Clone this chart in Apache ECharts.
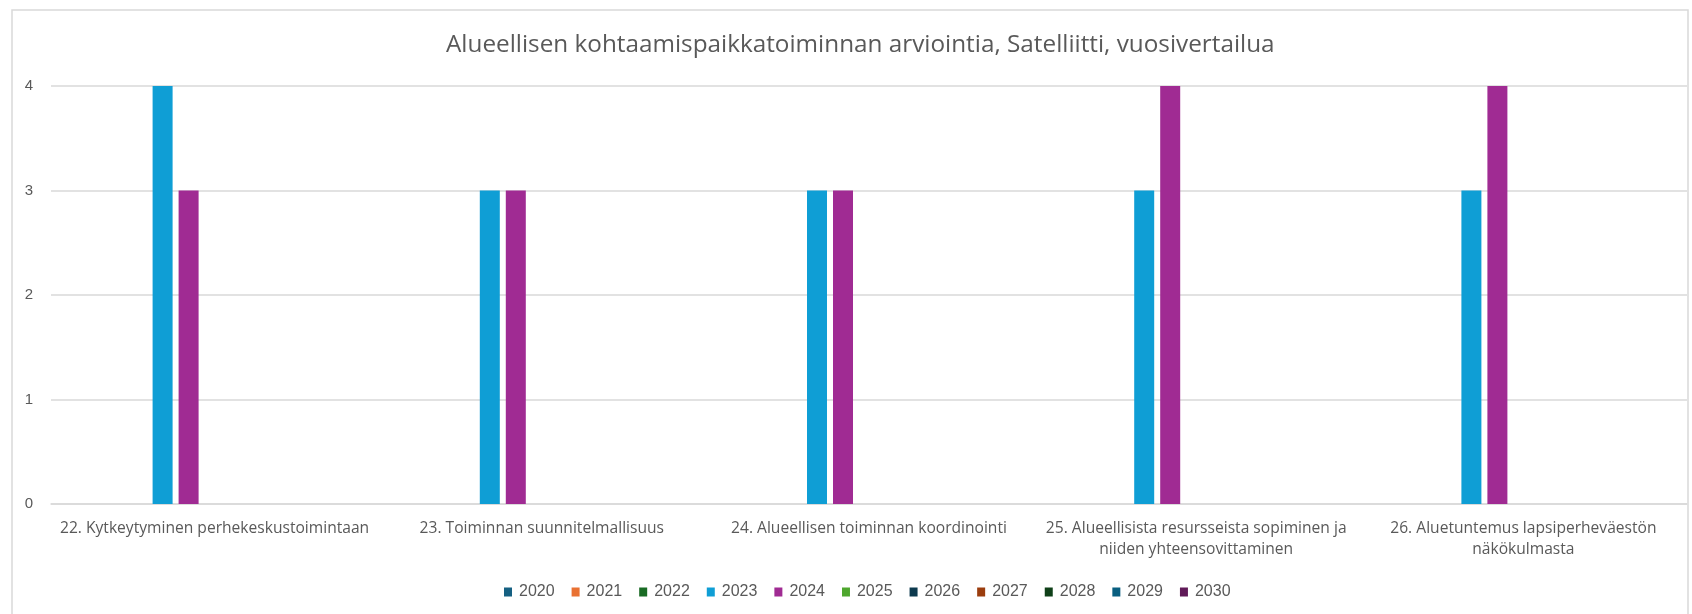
<!DOCTYPE html>
<html>
<head>
<meta charset="utf-8">
<script src="https://cdn.jsdelivr.net/npm/echarts@6/dist/echarts.min.js"></script>
<style>
  html, body { margin: 0; padding: 0; background: #fff; }
  #chart { width: 1692px; height: 614px; }
</style>
</head>
<body>
<div id="chart"></div>
<script>
// kategoriat
var categories = [
  "22. Kytkeytyminen perhekeskustoimintaan",
  "23. Toiminnan suunnitelmallisuus",
  "24. Alueellisen toiminnan koordinointi",
  "25. Alueellisista resursseista sopiminen ja\nniiden yhteensovittaminen",
  "26. Aluetuntemus lapsiperheväestön\nnäkökulmasta"
];
var years = ["2020", "2021", "2022", "2023", "2024", "2025", "2026", "2027", "2028", "2029", "2030"];
var yTicks = [0, 1, 2, 3, 4];

// arvot vuosittain (vain 2023 ja 2024 on tietoa)
var v2020 = [null, null, null, null, null];
var v2021 = [null, null, null, null, null];
var v2022 = [null, null, null, null, null];
var v2023 = [4, 3, 3, 3, 3];
var v2024 = [3, 3, 3, 4, 4];
var v2025 = [null, null, null, null, null];
var v2026 = [null, null, null, null, null];
var v2027 = [null, null, null, null, null];
var v2028 = [null, null, null, null, null];
var v2029 = [null, null, null, null, null];
var v2030 = [null, null, null, null, null];

var values = [v2020, v2021, v2022, v2023, v2024, v2025, v2026, v2027, v2028, v2029, v2030];
var colors = ["#156082", "#E97132", "#196B24", "#0F9ED5", "#A02B93", "#4EA72E",
              "#0D3A4E", "#9B3D0E", "#0F4018", "#095F80", "#601A58"];

var myChart = echarts.init(document.getElementById("chart"));

var series = [];
years.forEach(function (y, i) {
  series.push({
    name: y,
    type: "bar",
    barWidth: 20,
    barGap: "30%",
    itemStyle: { color: colors[i] },
    data: values[i]
  });
});

var option = {
  animation: false,
  color: colors,
  textStyle: { fontFamily: "Open Sans" },
  title: {
    text: "Alueellisen kohtaamispaikkatoiminnan arviointia, Satelliitti, vuosivertailua",
    left: 441,
    top: 28,
    textStyle: {
      fontFamily: "Open Sans",
      fontSize: 24.3,
      fontWeight: "normal",
      color: "#595959"
    }
  },
  graphic: [{
    type: "rect",
    shape: { x: 12, y: 10, width: 1676, height: 640 },
    style: { fill: "none", stroke: "#D9D9D9", lineWidth: 1.5 },
    silent: true,
    z: -1
  }],
  legend: {
    bottom: 9,
    left: 499,
    itemWidth: 8,
    itemHeight: 9,
    itemGap: 17,
    icon: "rect",
    textStyle: {
      fontFamily: "Liberation Sans",
      fontSize: 16,
      color: "#595959",
      padding: [0, 0, 0, 2]
    },
    data: years
  },
  grid: {
    left: 51,
    right: 5,
    top: 86,
    bottom: 110
  },
  xAxis: {
    type: "category",
    data: categories,
    axisLine: { show: true, lineStyle: { color: "#D9D9D9", width: 1.5 } },
    axisTick: { show: false },
    axisLabel: {
      interval: 0,
      margin: 14,
      fontSize: 15.6,
      lineHeight: 21,
      color: "#595959"
    }
  },
  yAxis: {
    type: "value",
    min: yTicks[0],
    max: yTicks[yTicks.length - 1],
    interval: 1,
    axisLine: { show: false },
    axisTick: { show: false },
    splitLine: { lineStyle: { color: "#D9D9D9", width: 1.5 } },
    axisLabel: {
      margin: 18,
      fontFamily: "Liberation Sans",
      fontSize: 15,
      color: "#595959"
    }
  },
  series: series
};
option && myChart.setOption(option);
</script>
</body>
</html>
